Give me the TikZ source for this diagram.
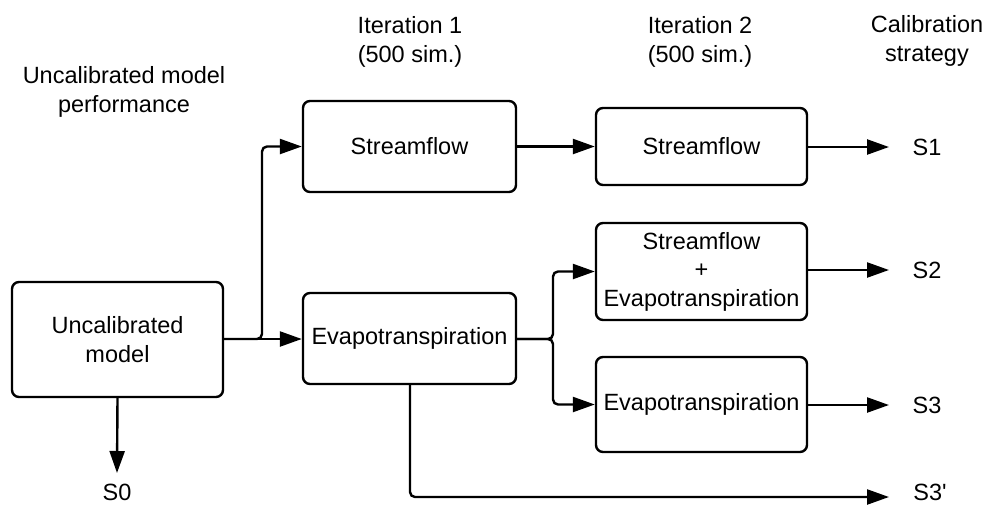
\documentclass[tikz,border=0pt]{standalone}
\usepackage{fontspec}
\setmainfont{Liberation Sans}
\usetikzlibrary{arrows.meta}
\begin{document}
\begin{tikzpicture}[x=1pt,y=-1pt,
  box/.style={draw, line width=2.4pt, rounded corners=7pt, inner sep=0pt, align=center, font=\fontsize{23.5}{28.5}\selectfont},
  hdr/.style={align=center, font=\fontsize{23.5}{28.5}\selectfont},
  lbl/.style={font=\fontsize{23.5}{28}\selectfont, inner sep=1pt},
  conn/.style={line width=2.4pt, rounded corners=5pt, -{Triangle[length=22pt,width=15pt]}}]
\useasboundingbox (0,0) rectangle (986,507);
% boxes
\node[box, minimum width=211pt, minimum height=115pt] (unc) at (117.5,339.5) {Uncalibrated\\model};
\node[box, minimum width=213pt, minimum height=91pt] (sf1) at (409.5,146.5) {Streamflow};
\node[box, minimum width=213pt, minimum height=91pt] (ev1) at (409.5,338.5) {Evapotranspiration};
\node[box, minimum width=211pt, minimum height=77pt] (sf2) at (701.5,146.5) {Streamflow};
\node[box, minimum width=211pt, minimum height=97pt] (se2) at (701.5,271.5) {Streamflow\\+\\Evapotranspiration};
\node[box, minimum width=211pt, minimum height=95pt] (ev2) at (701.5,404.5) {Evapotranspiration};
% headers
\node[hdr] (h0) at (124,92) {Uncalibrated model\\performance};
\node[hdr] (h1) at (410,42) {Iteration 1\\(500 sim.)};
\node[hdr] (h2) at (700,42) {Iteration 2\\(500 sim.)};
\node[hdr] (h3) at (927,41) {Calibration\\strategy};
% strategy labels
\node[lbl] (s0) at (117,492) {S0};
\node[lbl] (s1) at (927,147) {S1};
\node[lbl] (s2) at (927,270) {S2};
\node[lbl] (s3) at (927,405) {S3};
\node[lbl] (s3p) at (930,492) {S3\textquotesingle};
% end coordinates
\coordinate (e0) at (117,473);
\coordinate (e1) at (889,147);
\coordinate (e2) at (889,270);
\coordinate (e3) at (889,405);
\coordinate (e3p) at (889,497);
% connectors
\draw[conn] (unc.east |- 0,339) -- (ev1.west |- 0,339);
\draw[conn] (unc.east |- 0,339) -- (262,339) -- (262,146.5) -- (sf1.west);
\draw[conn] (sf1.east) -- (sf2.west);
\draw[conn] (ev1.east |- 0,339) -- (553,339) -- (553,271.5) -- (se2.west);
\draw[conn] (ev1.east |- 0,339) -- (553,339) -- (553,404.5) -- (ev2.west);
\draw[conn] (410,384) -- (410,497) -- (e3p);
\draw[conn] (unc.south) -- (e0);
\draw[conn] (sf2.east |- e1) -- (e1);
\draw[conn] (se2.east |- e2) -- (e2);
\draw[conn] (ev2.east |- e3) -- (e3);
\end{tikzpicture}
\end{document}
